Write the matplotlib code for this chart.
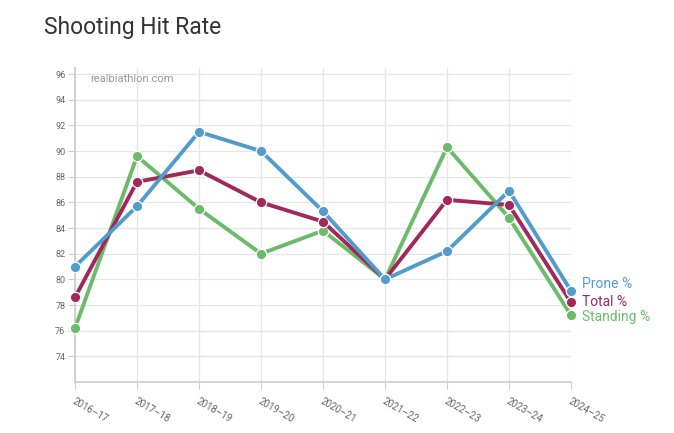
import matplotlib
matplotlib.use("Agg")
import matplotlib.pyplot as plt

plt.rcParams['font.family'] = ['Roboto', 'DejaVu Sans']

# Data
seasons = ["2016–17", "2017–18", "2018–19", "2019–20", "2020–21",
           "2021–22", "2022–23", "2023–24", "2024–25"]
prone = [81.0, 85.7, 91.5, 90.0, 85.3, 80.0, 82.2, 86.9, 79.1]
total = [78.6, 87.6, 88.5, 86.0, 84.5, 80.0, 86.2, 85.8, 78.2]
standing = [76.2, 89.6, 85.5, 82.0, 83.8, 80.0, 90.3, 84.8, 77.2]
y_ticks = list(range(74, 97, 2))

series = [
    ("Prone %", prone, "#529ccb"),
    ("Total %", total, "#a1285a"),
    ("Standing %", standing, "#6cbb6a"),
]

fig = plt.figure(figsize=(6.74, 4.33), dpi=100)
ax = fig.add_axes([0.1113, 0.1178, 0.7359, 0.7259])

x = list(range(len(seasons)))

# draw standing first so prone sits on top like in the original
for name, vals, col in reversed(series):
    ax.plot(x, vals, color=col, lw=2.8, marker="o", ms=7.5,
            mfc=col, mec="white", mew=0.9, clip_on=False, zorder=3)

# end labels, nudged apart a little
offsets = [0.5, 0.05, -0.15]
for (name, vals, col), off in zip(series, offsets):
    ax.text(8.18, vals[-1] + off, name, color=col, fontsize=10,
            va="center", ha="left")

ax.set_xlim(0, 8)
ax.set_ylim(72, 96.5)
ax.set_yticks(y_ticks)
ax.set_yticklabels([str(t) for t in y_ticks])
ax.set_xticks(x)
ax.set_xticklabels(seasons, rotation=-30, ha="left", va="top",
                   rotation_mode="anchor")

ax.grid(True, color="#e6e6e6", lw=0.9)
ax.set_axisbelow(True)
for s in ["top", "right"]:
    ax.spines[s].set_visible(False)
for s in ["left", "bottom"]:
    ax.spines[s].set_color("#cccccc")
    ax.spines[s].set_linewidth(1.2)

ax.tick_params(axis="y", labelsize=6.5, colors="#cccccc", labelcolor="#666666",
               length=5, pad=2)
ax.tick_params(axis="x", labelsize=7, colors="#cccccc", labelcolor="#666666",
               length=5, pad=5)

ax.text(0.03, 0.965, "realbiathlon.com", transform=ax.transAxes,
        fontsize=8, color="#999999", va="center", ha="left")

fig.text(0.066, 0.937, "Shooting Hit Rate", fontsize=16.5, color="#333333",
         va="center", ha="left")

fig.savefig("out.png", dpi=100)
